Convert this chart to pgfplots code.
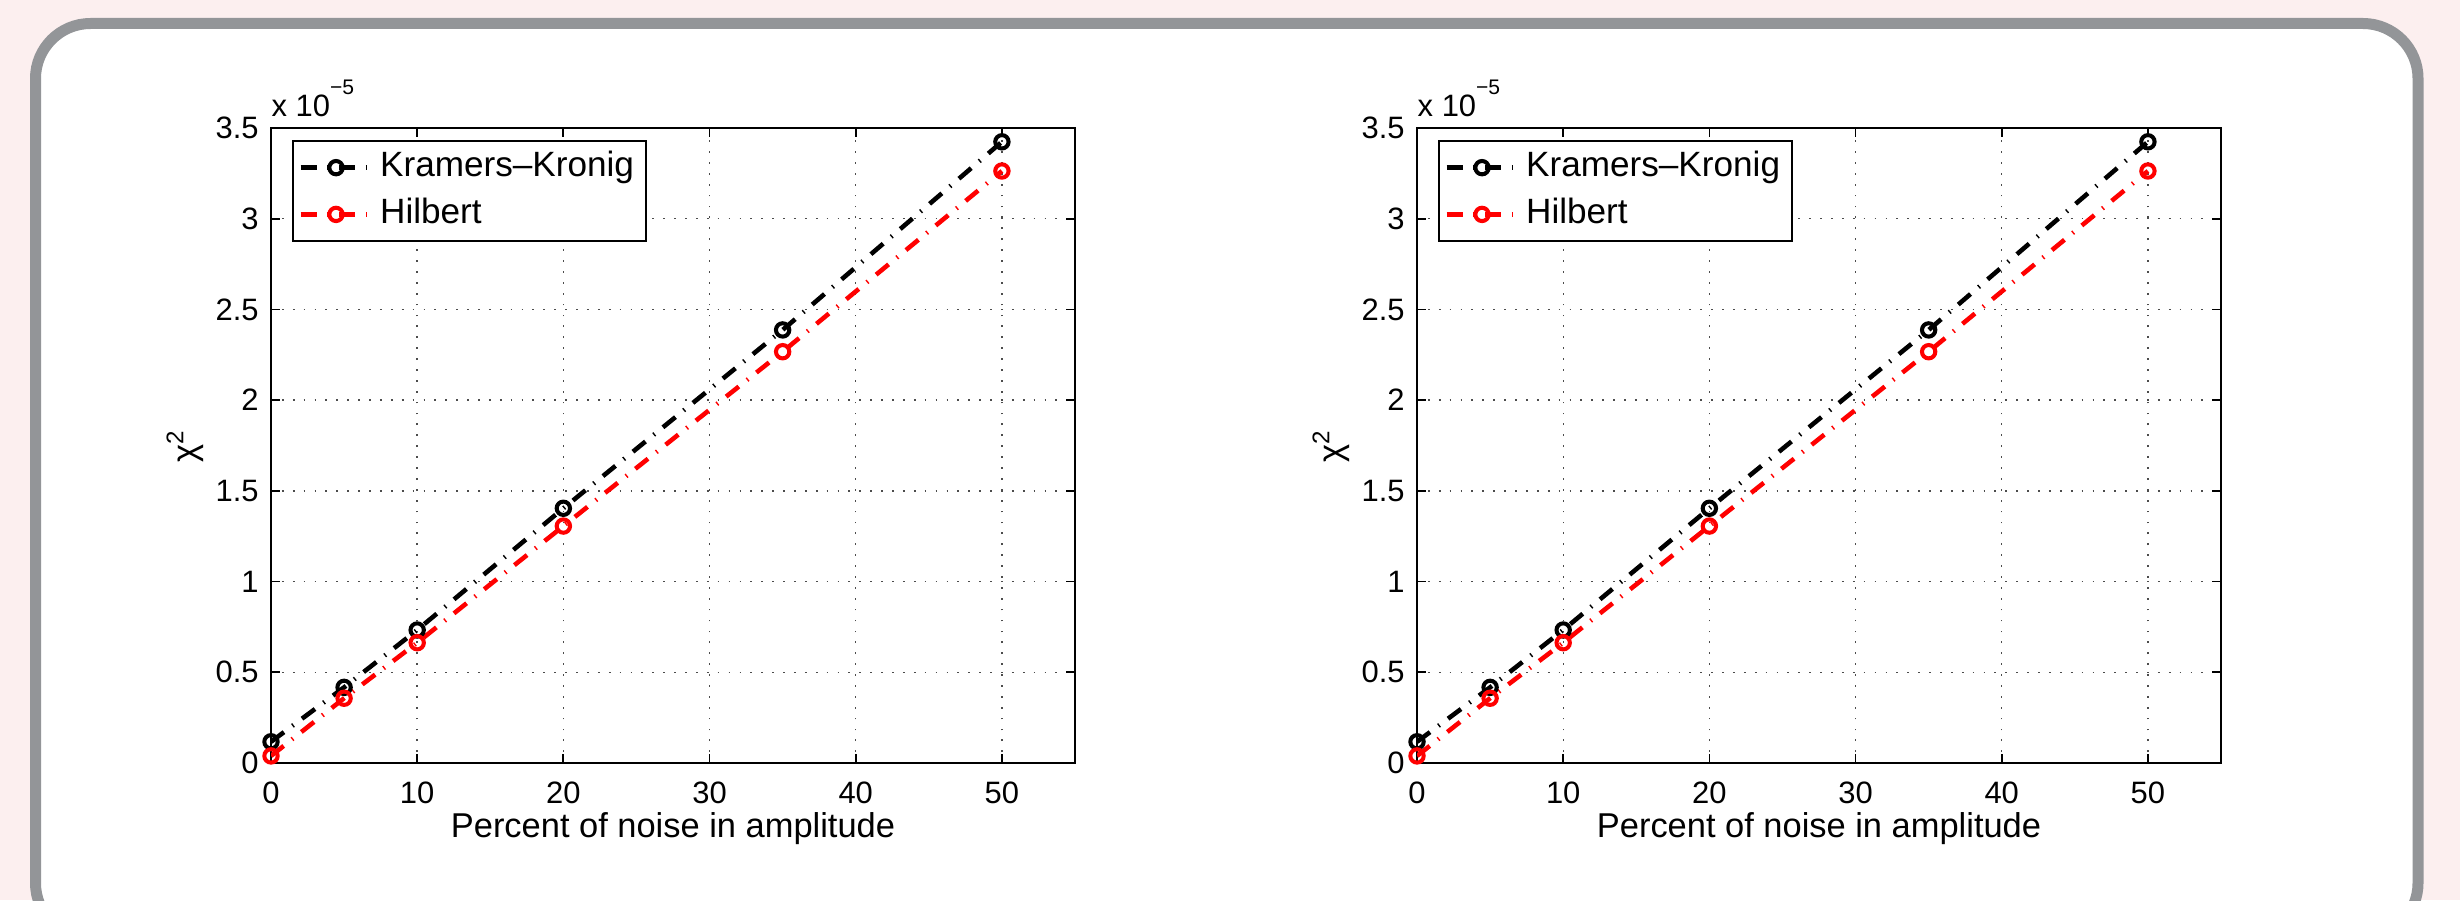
\documentclass[border=0pt]{standalone}
\usepackage{fontspec}
\setmainfont{Liberation Sans}
\usepackage{pgfplots}
\pgfplotsset{compat=1.18}

\definecolor{bgpink}{HTML}{FCEFEF}
\definecolor{framegray}{HTML}{939598}

% chi^2 against noise level, values in units of 1e-5 shown by the scale label
\pgfplotstableread{
noise kk     hil
0     0.117e-5 0.039e-5
5     0.417e-5 0.357e-5
10    0.733e-5 0.663e-5
20    1.404e-5 1.306e-5
35    2.387e-5 2.267e-5
50    3.424e-5 3.263e-5
}\chidata

\pgfplotsset{
  noiseplot/.style={
    scale only axis,
    width=8.04cm, height=6.35cm,
    xmin=0, xmax=55, ymin=0, ymax=3.5e-5,
    xtick={0,10,20,30,40,50},
    ytick={0,0.5e-5,1e-5,1.5e-5,2e-5,2.5e-5,3e-5,3.5e-5},
    scaled y ticks=base 10:5,
    ytick scale label code/.code={x 10\raisebox{6.3pt}{\fontsize{6}{7}\selectfont −5}},
    every y tick scale label/.style={at={(rel axis cs:0,1)}, anchor=base west,
      yshift=3.2pt, inner sep=0pt, font=\fontsize{8.8}{10}\selectfont},
    /pgf/number format/assume math mode=true,
    tick label style={font=\fontsize{8.8}{10}\selectfont},
    xticklabel style={anchor=base, yshift=-11.4pt},
    tick align=inside,
    major tick length=2.5pt,
    every tick/.style={black, line width=0.5pt},
    axis line style={line width=0.6pt},
    grid=major,
    major grid style={black!70, line width=0.4pt, dash pattern=on 0.5pt off 2.6pt},
    xlabel={Percent of noise in amplitude},
    xlabel style={at={(rel axis cs:0.5,-0.118)}, anchor=base,
      font=\fontsize{9.8}{11}\selectfont},
    ylabel={χ\textsuperscript{2}},
    ylabel style={at={(rel axis cs:-0.107,0.5)}, anchor=center,
      font=\fontsize{9.8}{11}\selectfont},
    legend style={at={(rel axis cs:0.026,0.981)}, anchor=north west,
      draw=black, line width=0.6pt, fill=white,
      inner xsep=1.5pt, inner ysep=0.9pt, row sep=0pt,
      font=\fontsize{10}{12}\selectfont,
      nodes={inner sep=1.8pt, text height=7.5pt, text depth=2.2pt}},
    legend cell align=left,
    legend image code/.code={
      \draw[mark repeat=2, mark phase=2, #1]
        plot coordinates {(0cm,0cm) (0.355cm,0cm) (0.71cm,0cm)};},
    every axis plot/.append style={line width=1.3pt,
      dash pattern=on 4.6pt off 3pt on 0.4pt off 3pt,
      mark=o, mark size=1.9pt,
      mark options={solid, line width=1.15pt}},
  }
}

\begin{document}
\begin{tikzpicture}
  \useasboundingbox (0,0) rectangle (24.6,9);
  \fill[bgpink] (0,0) rectangle (24.6,9);
  \begin{scope}
    \clip (0,0) rectangle (24.6,9);
    \draw[framegray, line width=0.11cm, fill=white, rounded corners=0.55cm]
      (0.355,-0.38) rectangle (24.18,8.765);
  \end{scope}

  \begin{axis}[noiseplot, at={(2.71cm,1.37cm)}, anchor=south west]
    \addplot[black] table[x=noise, y=kk] {\chidata};
    \addplot[red] table[x=noise, y=hil] {\chidata};
    \legend{Kramers--Kronig, Hilbert}
  \end{axis}

  \begin{axis}[noiseplot, at={(14.17cm,1.37cm)}, anchor=south west]
    \addplot[black] table[x=noise, y=kk] {\chidata};
    \addplot[red] table[x=noise, y=hil] {\chidata};
    \legend{Kramers--Kronig, Hilbert}
  \end{axis}
\end{tikzpicture}
\end{document}
